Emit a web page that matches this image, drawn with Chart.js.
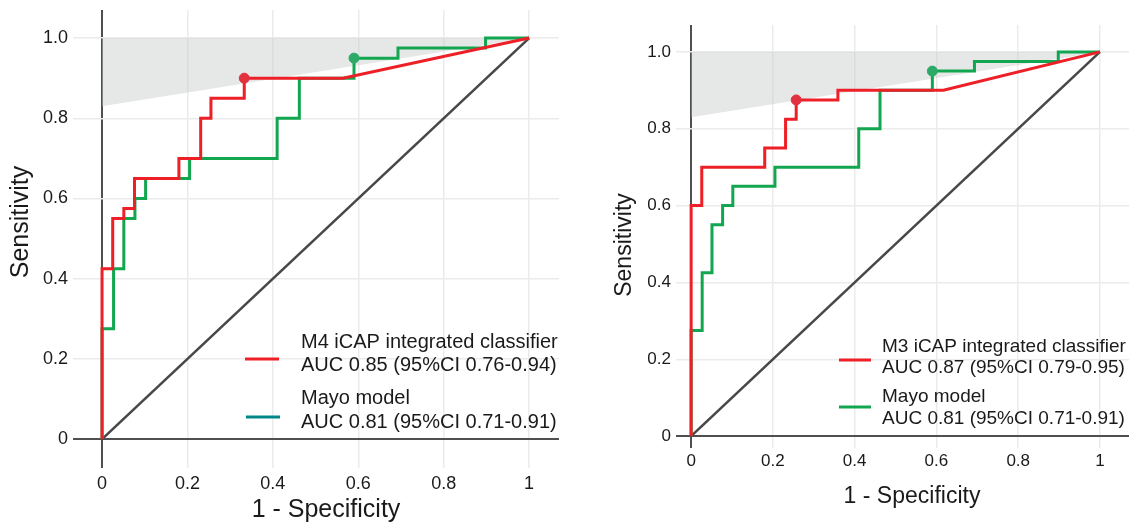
<!DOCTYPE html>
<html>
<head>
<meta charset="utf-8">
<script src="https://cdn.jsdelivr.net/npm/chart.js@4/dist/chart.umd.min.js"></script>
<style>
    body { margin: 0; background: #fff; }
    .panel { position: absolute; top: 0; height: 525px; }
</style>
</head>
<body>
<div class="panel" style="left:0;width:565px"><canvas id="rocLeft"></canvas></div>
<div class="panel" style="left:565px;width:564px"><canvas id="rocRight"></canvas></div>
<script>
// tick values / labels
const xTickValues = [0, 0.2, 0.4, 0.6, 0.8, 1];
const xTickLabels = ['0', '0.2', '0.4', '0.6', '0.8', '1'];
const yTickValues = [0, 0.2, 0.4, 0.6, 0.8, 1];
const yTickLabels = ['0', '0.2', '0.4', '0.6', '0.8', '1.0'];

// ROC curves (1 - specificity, sensitivity)
const m4Fpr = [0, 0, 0.025, 0.025, 0.051, 0.051, 0.076, 0.076, 0.18, 0.18, 0.231, 0.231, 0.255, 0.255, 0.333, 0.333, 0.564, 1];
const m4Tpr = [0, 0.425, 0.425, 0.55, 0.55, 0.575, 0.575, 0.65, 0.65, 0.70, 0.70, 0.80, 0.80, 0.85, 0.85, 0.90, 0.90, 1];

const m3Fpr = [0, 0, 0.026, 0.026, 0.18, 0.18, 0.231, 0.231, 0.257, 0.257, 0.359, 0.359, 0.617, 1];
const m3Tpr = [0, 0.60, 0.60, 0.70, 0.70, 0.75, 0.75, 0.825, 0.825, 0.875, 0.875, 0.90, 0.90, 1];

const mayoFpr = [0, 0, 0.027, 0.027, 0.051, 0.051, 0.077, 0.077, 0.102, 0.102, 0.205, 0.205, 0.41, 0.41, 0.462, 0.462, 0.59, 0.59, 0.693, 0.693, 0.898, 0.898, 1];
const mayoTpr = [0, 0.275, 0.275, 0.425, 0.425, 0.55, 0.55, 0.60, 0.60, 0.65, 0.65, 0.70, 0.70, 0.80, 0.80, 0.90, 0.90, 0.95, 0.95, 0.975, 0.975, 1, 1];

// chosen cut-off points
const m4Cutoff = [0.333, 0.90];
const m3Cutoff = [0.257, 0.875];
const mayoCutoff = [0.59, 0.95];

// shaded region (lower edge, filled up to 1)
const bandFpr = [0, 1];
const bandTpr = [0.83, 1];

// chance line
const chanceFpr = [0, 1];
const chanceTpr = [0, 1];

const RED = '#ed1f27';
const GREEN = '#13a650';
const FONT = "Arial, 'Liberation Sans', sans-serif";

const toPoints = (xs, ys) => xs.map((x, i) => ({x: x, y: ys[i]}));

const rocTextPlugin = {
    id: 'rocText',
    afterDraw(chart, args, opts) {
        const ctx = chart.ctx;
        ctx.save();
        opts.legend.forEach(item => {
            ctx.strokeStyle = item.color;
            ctx.lineWidth = 3;
            ctx.beginPath();
            ctx.moveTo(item.x1, item.lineY);
            ctx.lineTo(item.x2, item.lineY);
            ctx.stroke();
            ctx.fillStyle = '#1a1a1a';
            ctx.font = opts.legendFont;
            ctx.textAlign = 'left';
            ctx.textBaseline = 'middle';
            item.text.forEach((t, i) => ctx.fillText(t, item.textX, item.textY[i]));
        });

        ctx.font = opts.titleFont;
        ctx.fillStyle = '#1a1a1a';
        ctx.textAlign = 'center';
        ctx.textBaseline = 'middle';
        ctx.fillText('1 - Specificity', opts.xTitle[0], opts.xTitle[1]);
        ctx.translate(opts.yTitle[0], opts.yTitle[1]);
        ctx.rotate(-Math.PI / 2);
        ctx.fillText('Sensitivity', 0, 0);
        ctx.restore();
    }
};

function makeRoc(canvasId, o) {
    const line = (data, color, width) => ({
        data: data,
        borderColor: color,
        borderWidth: width,
        pointRadius: 0,
        showLine: true,
        fill: false
    });
    const dot = (pt, color) => ({
        data: [{x: pt[0], y: pt[1]}],
        backgroundColor: color,
        borderColor: color,
        pointRadius: 5,
        showLine: false
    });

    const gridColor = ctx => ctx.tick && ctx.tick.value === 0 ? '#4f4f4f' : '#ebebeb';
    const gridWidth = ctx => ctx.tick && ctx.tick.value === 0 ? 2 : 1.5;

    return new Chart(document.getElementById(canvasId), {
        type: 'scatter',
        data: {
            datasets: [
                dot(o.cutoff, '#e2323f'),
                dot(mayoCutoff, '#2eaa68'),
                line(toPoints(o.fpr, o.tpr), RED, 3),
                line(toPoints(mayoFpr, mayoTpr), GREEN, 3),
                line(toPoints(chanceFpr, chanceTpr), '#484848', 2.6),
                {
                    data: toPoints(bandFpr, bandTpr),
                    showLine: true,
                    borderWidth: 0,
                    pointRadius: 0,
                    backgroundColor: 'rgba(200, 204, 204, 0.45)',
                    fill: {value: 1}
                }
            ]
        },
        options: {
            responsive: true,
            maintainAspectRatio: false,
            animation: false,
            layout: {
                autoPadding: false,
                padding: {top: o.top, right: o.right, left: 0, bottom: 0}
            },
            plugins: {
                legend: {display: false},
                tooltip: {enabled: false},
                rocText: o.text
            },
            scales: {
                x: {
                    type: 'linear',
                    min: o.xMin,
                    max: o.xMax,
                    border: {display: false},
                    grid: {color: gridColor, lineWidth: gridWidth, drawTicks: false},
                    afterBuildTicks: scale => { scale.ticks = xTickValues.map(v => ({value: v})); },
                    afterFit: scale => {
                        scale.height = o.xAxisHeight;
                        scale.paddingLeft = 0;
                        scale.paddingRight = 0;
                    },
                    ticks: {
                        padding: o.xTickPad,
                        color: '#1a1a1a',
                        font: {family: FONT, size: o.tickSize},
                        maxRotation: 0,
                        callback: (v, i) => xTickLabels[i]
                    }
                },
                y: {
                    type: 'linear',
                    min: o.yMin,
                    max: o.yMax,
                    border: {display: false},
                    grid: {color: gridColor, lineWidth: gridWidth, drawTicks: false},
                    afterBuildTicks: scale => { scale.ticks = yTickValues.map(v => ({value: v})); },
                    afterFit: scale => {
                        scale.width = o.yAxisWidth;
                        scale.paddingTop = 0;
                        scale.paddingBottom = 0;
                    },
                    ticks: {
                        padding: 5,
                        color: '#1a1a1a',
                        font: {family: FONT, size: o.tickSize},
                        callback: (v, i) => yTickLabels[i]
                    }
                }
            }
        },
        plugins: [rocTextPlugin]
    });
}

makeRoc('rocLeft', {
    fpr: m4Fpr, tpr: m4Tpr, cutoff: m4Cutoff,
    top: 10, right: 6, yAxisWidth: 73, xAxisHeight: 57, xTickPad: 5, tickSize: 18,
    xMin: -0.068, xMax: 1.070, yMin: -0.072, yMax: 1.070,
    text: {
        legendFont: '20px ' + FONT,
        titleFont: '25px ' + FONT,
        xTitle: [326, 510],
        yTitle: [21, 222],
        legend: [
            {color: RED, x1: 245, x2: 279, lineY: 359, textX: 301, textY: [342, 365],
             text: ['M4 iCAP integrated classifier', 'AUC 0.85 (95%CI 0.76-0.94)']},
            {color: '#00878a', x1: 246, x2: 280, lineY: 417, textX: 301, textY: [398, 422],
             text: ['Mayo model', 'AUC 0.81 (95%CI 0.71-0.91)']}
        ]
    }
});

makeRoc('rocRight', {
    fpr: m3Fpr, tpr: m3Tpr, cutoff: m3Cutoff,
    top: 25, right: 0, yAxisWidth: 111, xAxisHeight: 77, xTickPad: 3, tickSize: 17,
    xMin: -0.037, xMax: 1.071, yMin: -0.031, yMax: 1.070,
    text: {
        legendFont: '19px ' + FONT,
        titleFont: '23px ' + FONT,
        xTitle: [347, 497],
        yTitle: [60, 245],
        legend: [
            {color: RED, x1: 274, x2: 306, lineY: 360, textX: 317, textY: [347, 368],
             text: ['M3 iCAP integrated classifier', 'AUC 0.87 (95%CI 0.79-0.95)']},
            {color: GREEN, x1: 274, x2: 306, lineY: 407, textX: 317, textY: [397, 419],
             text: ['Mayo model', 'AUC 0.81 (95%CI 0.71-0.91)']}
        ]
    }
});
</script>
</body>
</html>
